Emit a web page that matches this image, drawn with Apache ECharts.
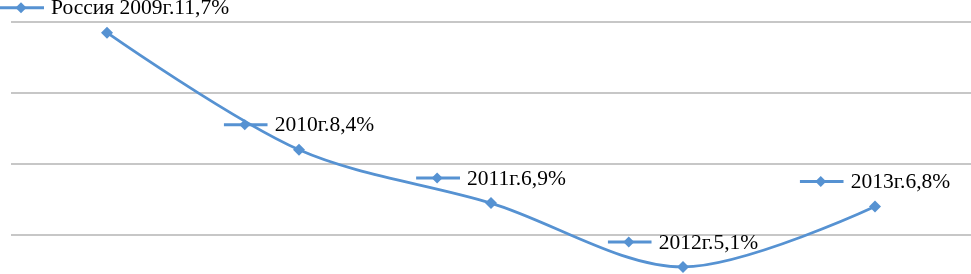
<!DOCTYPE html>
<html>
<head>
<meta charset="utf-8">
<script src="https://cdn.jsdelivr.net/npm/echarts@6/dist/echarts.min.js"></script>
<style>html,body{margin:0;padding:0;background:#fff}#c{width:971px;height:274px}</style>
</head>
<body>
<div id="c"></div>
<script>
const seriesName = 'Россия';
const categories = ['2009', '2010', '2011', '2012', '2013'];
const values = [11.7, 8.4, 6.9, 5.1, 6.8];
const yTicks = [4, 6, 8, 10, 12];

const COLOR = '#5692d2';
const keySvg = "<svg xmlns='http://www.w3.org/2000/svg' width='44' height='14'>" +
  "<line x1='0' y1='6' x2='44' y2='6' stroke='" + COLOR + "' stroke-width='3'/>" +
  "<path d='M21 0.5 L26.5 6 L21 11.5 L15.5 6 Z' fill='" + COLOR + "'/></svg>";
const keyImg = 'data:image/svg+xml;charset=utf-8,' + encodeURIComponent(keySvg);

const chart = echarts.init(document.getElementById('c'), null, {renderer: 'canvas'});
chart.setOption({
  animation: false,
  backgroundColor: '#fff',
  grid: {left: 11, right: 0, top: 22, bottom: -32, outerBoundsMode: 'none', containLabel: false},
  xAxis: {
    type: 'category', data: categories, boundaryGap: true,
    axisLine: {show: false}, axisTick: {show: false}, axisLabel: {show: false}, splitLine: {show: false}
  },
  yAxis: {
    type: 'value', min: yTicks[0], max: yTicks[yTicks.length - 1], interval: 2,
    axisLine: {show: false}, axisTick: {show: false}, axisLabel: {show: false},
    splitLine: {show: true, lineStyle: {color: '#b4b4b4', width: 1.5}}
  },
  series: [{
    name: seriesName,
    type: 'line',
    data: values,
    smooth: 0.32,
    symbol: 'diamond',
    symbolSize: 12,
    lineStyle: {color: COLOR, width: 2.8},
    itemStyle: {color: COLOR},
    labelLayout: function (params) {
      const r = params.labelRect;
      if (r.x < 0) return {dx: -r.x};
      return {};
    },
    label: {
      show: true,
      position: 'top',
      distance: 7,
      formatter: function (p) {
        const txt = (p.dataIndex === 0 ? seriesName + ' ' : '') + categories[p.dataIndex] + 'г.' +
          String(p.value).replace('.', ',') + '%';
        return '{k|}{t|' + txt + '}';
      },
      rich: {
        k: {width: 44, height: 14, backgroundColor: {image: keyImg}},
        t: {fontFamily: 'Liberation Serif', fontSize: 21.5, color: '#000', padding: [0, 0, 0, 7]}
      }
    }
  }]
});
</script>
</body>
</html>
